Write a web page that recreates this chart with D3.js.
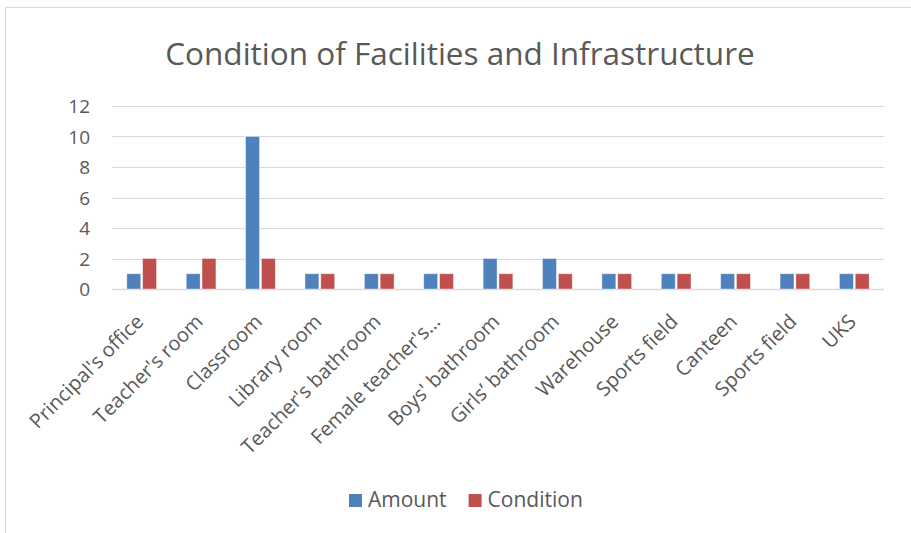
<!DOCTYPE html>
<html>
<head>
<meta charset="utf-8">
<script src="https://cdn.jsdelivr.net/npm/d3@7"></script>
<style>
    body { margin: 0; background: #fff; }
    text { font-family: "Open Sans", sans-serif; fill: #595959; }
</style>
</head>
<body>
<svg id="chart" width="911" height="533"></svg>
<script>
// chart data
var categories = ["Principal's office", "Teacher's room", "Classroom", "Library room",
    "Teacher's bathroom", "Female teacher's bathroom", "Boys' bathroom", "Girls\u2019 bathroom",
    "Warehouse", "Sports field", "Canteen", "Sports field", "UKS"];
var amountValues = [1, 1, 10, 1, 1, 1, 2, 2, 1, 1, 1, 1, 1];
var conditionValues = [2, 2, 2, 1, 1, 1, 1, 1, 1, 1, 1, 1, 1];
var seriesNames = ["Amount", "Condition"];
var yTicks = [0, 2, 4, 6, 8, 10, 12];

var colors = ["#4F81BD", "#C0504D"];
var titleText = "Condition of Facilities and Infrastructure";

var width = 911, height = 533;
var margin = {top: 106, right: 27, bottom: 244, left: 112};

var svg = d3.select("#chart");

// chart frame
svg.append("rect")
    .attr("x", 5.5).attr("y", 7.5)
    .attr("width", width + 10).attr("height", height + 10)
    .attr("fill", "#fff")
    .attr("stroke", "#d9d9d9");

var plotW = width - margin.left - margin.right;
var plotH = height - margin.top - margin.bottom;

var g = svg.append("g").attr("transform", "translate(" + margin.left + "," + margin.top + ")");

var x = d3.scaleBand()
    .domain(d3.range(categories.length))
    .range([0, plotW])
    .paddingInner(0.5)
    .paddingOuter(0.25);

var x1 = d3.scaleBand()
    .domain(d3.range(seriesNames.length))
    .range([0, x.bandwidth()])
    .paddingInner(0.12);

var y = d3.scaleLinear().domain([0, 12]).range([plotH, 0]);

// gridlines
g.selectAll(".grid")
    .data(yTicks)
    .enter().append("line")
    .attr("class", "grid")
    .attr("x1", 0).attr("x2", plotW)
    .attr("y1", function(d) { return Math.round(y(d)) + 0.5; })
    .attr("y2", function(d) { return Math.round(y(d)) + 0.5; })
    .attr("stroke", "#d9d9d9")
    .attr("stroke-width", function(d) { return d == 0 ? 1.5 : 1; });

// y axis labels
var yAxis = d3.axisLeft(y).tickValues(yTicks).tickSize(0).tickPadding(22);
var yG = g.append("g").call(yAxis);
yG.select(".domain").remove();
yG.selectAll("text")
    .style("font-size", "19px")
    .attr("fill", "#595959")
    .attr("dy", "0.35em");

// bars
var series = [amountValues, conditionValues];
series.forEach(function(values, s) {
    g.selectAll(".bar-" + s)
        .data(values)
        .enter().append("rect")
        .attr("class", "bar-" + s)
        .attr("x", function(d, i) { return x(i) + x1(s); })
        .attr("y", function(d) { return y(d); })
        .attr("width", x1.bandwidth())
        .attr("height", function(d) { return plotH - y(d); })
        .attr("fill", colors[s])
        .attr("stroke", "#fff")
        .attr("stroke-opacity", 0.5)
        .attr("stroke-width", 0.75);
});

// category labels, rotated
var shortLabel = function(name) {
    if (name.length > 20) {
        return name.substring(0, 16) + "...";
    }
    return name;
};

g.selectAll(".xlabel")
    .data(categories)
    .enter().append("text")
    .attr("class", "xlabel")
    .attr("text-anchor", "end")
    .attr("transform", function(d, i) {
        var cx = x(i) + x.bandwidth() / 2 - 2;
        return "translate(" + cx + "," + (plotH + 29) + ") rotate(-45)";
    })
    .attr("dy", "0.35em")
    .style("font-size", "20px")
    .text(function(d) { return shortLabel(d); });

// title
svg.append("text")
    .attr("x", 460).attr("y", 65)
    .attr("text-anchor", "middle")
    .style("font-size", "31.5px")
    .text(titleText);

// legend
var legend = svg.append("g");
var lx = 349;
seriesNames.forEach(function(name, i) {
    var item = legend.append("g").attr("transform", "translate(" + lx + ",494)");
    item.append("rect")
        .attr("width", 13).attr("height", 13)
        .attr("fill", colors[i]);
    var t = item.append("text")
        .attr("x", 19).attr("y", 12.5)
        .style("font-size", "21px")
        .text(name);
    lx += 19 + t.node().getComputedTextLength() + 22;
});
</script>
</body>
</html>
